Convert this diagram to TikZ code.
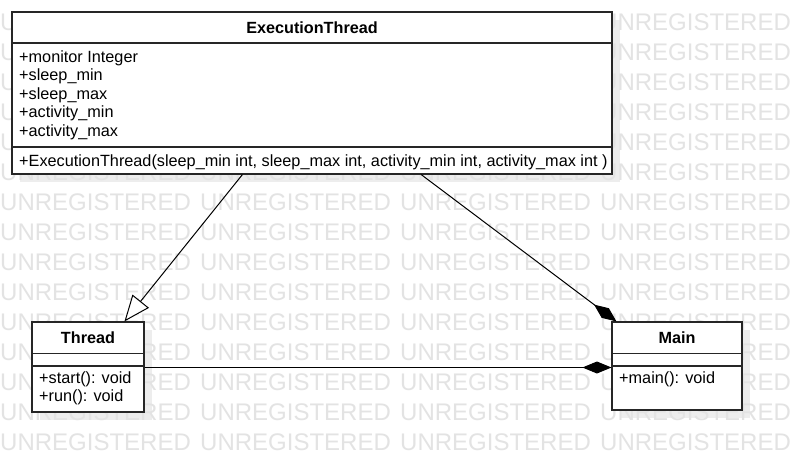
\documentclass[tikz,border=0pt]{standalone}
\usepackage{fontspec}
\setmainfont{Liberation Sans}
\usetikzlibrary{arrows.meta}
\begin{document}
\begin{tikzpicture}[x=1pt,y=-1pt,
  box/.style={draw=black!85, line width=1.1pt, fill=white, inner sep=0pt},
  sep/.style={draw=black!85, line width=1.1pt},
  shadowfill/.style={fill=black!7, draw=none},
  wm/.style={text=black!11, font=\fontsize{24}{24}\selectfont, anchor=base west, inner sep=0pt},
  txt/.style={font=\fontsize{16.25}{18}\selectfont, anchor=base west, inner sep=0pt},
  ttl/.style={font=\fontsize{16.2}{18}\selectfont\bfseries, anchor=base, inner sep=0pt},
  conn/.style={line width=1pt, draw=black}]

\useasboundingbox (0,0) rectangle (792,462);
\fill[white] (0,0) rectangle (792,462);

% shadows
\fill[shadowfill] (20,20) rectangle (620,182);
\fill[shadowfill] (40,330) rectangle (152,420);
\fill[shadowfill] (620,330) rectangle (750,418);

% watermark
\foreach \r in {0,...,14}{
  \foreach \c in {0,...,3}{
    \node[wm] (wm-\r-\c) at ({200*\c},{31+29.93*\r}) {UNREGISTERED};
  }
}

% ExecutionThread
\node[box, minimum width=600pt, minimum height=162pt] (et) at (312,93) {};
\draw[sep] (12,43) -- (612,43);
\draw[sep] (12,147) -- (612,147);
\node[ttl] (et-title) at (312,33.3) {ExecutionThread};
\node[txt] (et-a1) at (19,62.5) {+monitor Integer};
\node[txt] (et-a2) at (19,81) {+sleep\_min};
\node[txt] (et-a3) at (19,99.5) {+sleep\_max};
\node[txt] (et-a4) at (19,118) {+activity\_min};
\node[txt] (et-a5) at (19,136.5) {+activity\_max};
\node[txt] (et-m1) at (19,166.5) {+ExecutionThread(sleep\_min int, sleep\_max int, activity\_min int, activity\_max int )};

% Thread
\node[box, minimum width=112pt, minimum height=90pt] (thread) at (88,367) {};
\draw[sep] (32,353.3) -- (144,353.3);
\draw[sep] (32,366) -- (144,366);
\node[ttl] (thread-title) at (88,343.3) {Thread};
\node[txt] (thread-m1) at (39,383.3) {+start(): void};
\node[txt] (thread-m2) at (39,401.8) {+run(): void};

% Main
\node[box, minimum width=130pt, minimum height=88pt] (main) at (677,366) {};
\draw[sep] (612,353.3) -- (742,353.3);
\draw[sep] (612,366) -- (742,366);
\node[ttl] (main-title) at (677,343.3) {Main};
\node[txt] (main-m1) at (619,383.3) {+main(): void};

% connectors
\draw[conn, -{Triangle[open, fill=white, length=26pt, width=21pt]}]
  ([xshift=231pt]et.south west) -- ([xshift=93pt]thread.north west);
\draw[conn, -{Diamond[length=28pt, width=12pt]}]
  ([xshift=409.7pt]et.south west) -- ([xshift=5pt]main.north west);
\draw[conn, -{Diamond[length=29pt, width=12pt]}]
  ([yshift=-0.5pt]thread.east) -- ([yshift=-0.5pt]thread.east -| main.west);
\end{tikzpicture}
\end{document}
